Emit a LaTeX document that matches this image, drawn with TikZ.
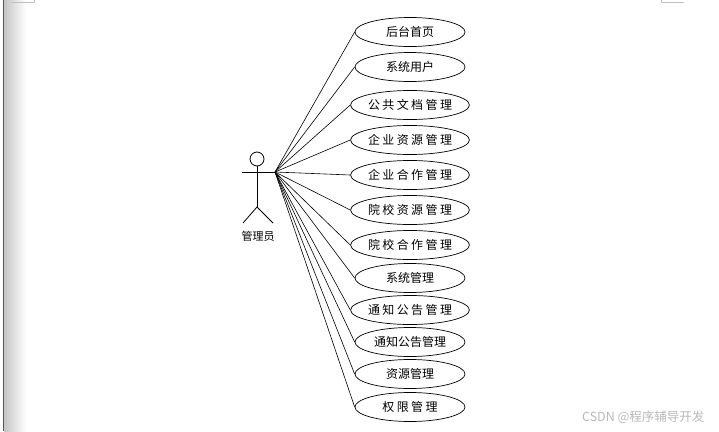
\documentclass[tikz,border=0pt]{standalone}
\usepackage{fontspec}
\newfontfamily\cjk{Noto Sans CJK SC}
\newfontfamily\cjkwide[LetterSpace=20]{Noto Sans CJK SC}
\usetikzlibrary{shapes.geometric}

\begin{document}
\begin{tikzpicture}[x=1pt, y=-1pt,
    usecase/.style={draw, ellipse, line width=0.7pt, minimum width=110pt, minimum height=29pt,
        inner sep=0pt, font=\cjk\fontsize{12}{12}\selectfont},
    widecase/.style={usecase, font=\cjkwide\fontsize{12}{12}\selectfont},
    assoc/.style={line width=0.6pt},
    stick/.style={line width=0.8pt}]
    \useasboundingbox (0,0) rectangle (719,431);

    % Page edge on the left
    \shade[left color=gray!45, right color=white] (4,0) rectangle (26,431);
    \draw[gray!70!black, line width=1.2pt] (3.5,0) -- (3.5,431);
    \draw[gray!50, line width=0.6pt] (11,2) -- (34,2) -- (34,0);
    \draw[gray!50, line width=0.6pt] (661,0) -- (661,2) -- (684,2);

    % Actor
    \draw[stick] (257,159) circle (7);
    \draw[stick] (257,166) -- (257,207);
    \draw[stick] (242,172) -- (275,172);
    \draw[stick] (243,223) -- (257,207) -- (273,223);
    \coordinate (hand) at (275,172);
    \node[font=\cjk\fontsize{11}{11}\selectfont] (admin) at (258,236) {管理员};

    % Use cases (one column)
    \node[usecase] (u1) at (410,32) {后台首页};
    \node[usecase] (u2) at (410,67) {系统用户};
    \node[widecase] (u3) at (410,105) {公共文档管理};
    \node[widecase] (u4) at (410,140) {企业资源管理};
    \node[widecase] (u5) at (410,175) {企业合作管理};
    \node[widecase] (u6) at (410,210) {院校资源管理};
    \node[widecase] (u7) at (410,245) {院校合作管理};
    \node[usecase] (u8) at (410,278) {系统管理};
    \node[widecase] (u9) at (410,310) {通知公告管理};
    \node[usecase] (u10) at (410,342) {通知公告管理};
    \node[usecase] (u11) at (410,374) {资源管理};
    \node[widecase] (u12) at (410,407) {权限管理};

    % Associations from the actor
    \draw[assoc] (hand) -- (u1.west);
    \draw[assoc] (hand) -- (u2.west);
    \draw[assoc] (hand) -- (u3.west);
    \draw[assoc] (hand) -- (u4.west);
    \draw[assoc] (hand) -- (u5.west);
    \draw[assoc] (hand) -- (u6.west);
    \draw[assoc] (hand) -- (u7.west);
    \draw[assoc] (hand) -- (u8.west);
    \draw[assoc] (hand) -- (u9.west);
    \draw[assoc] (hand) -- (u10.west);
    \draw[assoc] (hand) -- (u11.west);
    \draw[assoc] (hand) -- (u12.west);

    % Watermark
    \node[text=gray!55, font=\cjk\fontsize{12.5}{12.5}\selectfont, anchor=east] (mark) at (708,417) {CSDN @程序辅导开发};
\end{tikzpicture}
\end{document}
